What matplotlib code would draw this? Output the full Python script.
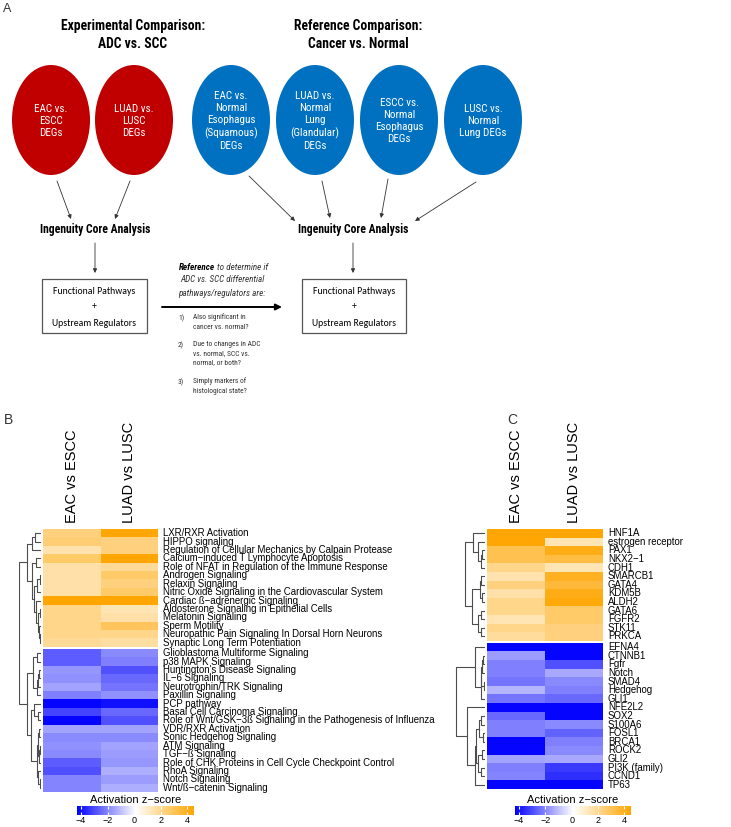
import numpy as np
import matplotlib
matplotlib.use("Agg")
import matplotlib.pyplot as plt
from matplotlib.patches import Ellipse, Rectangle
from matplotlib.colors import LinearSegmentedColormap, Normalize
from matplotlib.colorbar import ColorbarBase
from matplotlib.transforms import offset_copy

W, H = 731, 827
NARROW = ['Roboto Condensed', 'Arial Narrow', 'Liberation Sans Narrow', 'Liberation Sans']
ARIAL = ['Liberation Sans', 'DejaVu Sans']
CALIBRI = ['Carlito', 'Lato', 'DejaVu Sans']

# ---------------- data: panel B (pathways) ----------------
heat_cols = ["EAC vs ESCC", "LUAD vs LUSC"]

b_up_names = ["LXR/RXR Activation", "HIPPO signaling",
              "Regulation of Cellular Mechanics by Calpain Protease",
              "Calcium\u2212induced T Lymphocyte Apoptosis",
              "Role of NFAT in Regulation of the Immune Response",
              "Androgen Signaling", "Relaxin Signaling",
              "Nitric Oxide Signaling in the Cardiovascular System",
              "Cardiac \u00df\u2212adrenergic Signaling",
              "Aldosterone Signaling in Epithelial Cells", "Melatonin Signaling",
              "Sperm Motility", "Neuropathic Pain Signaling In Dorsal Horn Neurons",
              "Synaptic Long Term Potentiation"]
b_up_eac = [2.2, 2.4, 1.4, 2.6, 1.5, 1.5, 1.5, 1.5, 4.3, 2.0, 2.0, 2.0, 2.0, 1.8]
b_up_luad = [4.3, 2.2, 2.2, 4.3, 1.8, 2.6, 2.2, 2.6, 4.3, 1.3, 1.5, 2.8, 2.0, 1.6]

b_down_names = ["Glioblastoma Multiforme Signaling", "p38 MAPK Signaling",
                "Huntington's Disease Signaling", "IL\u22126 Signaling",
                "Neurotrophin/TRK Signaling", "Paxillin Signaling", "PCP pathway",
                "Basal Cell Carcinoma Signaling",
                "Role of Wnt/GSK\u22123\u00df Signaling in the Pathogenesis of Influenza",
                "VDR/RXR Activation", "Sonic Hedgehog Signaling", "ATM Signaling",
                "TGF\u2212\u00df Signaling",
                "Role of CHK Proteins in Cell Cycle Checkpoint Control",
                "RhoA Signaling", "Notch Signaling", "Wnt/\u00df\u2212catenin Signaling"]
b_down_eac = [-2.8, -2.8, -1.8, -1.9, -1.6, -2.2, -4.3, -3.2, -4.3, -1.6, -2.0,
              -1.9, -2.0, -2.8, -3.0, -2.1, -2.1]
b_down_luad = [-2.0, -2.2, -3.0, -2.6, -2.4, -1.9, -4.1, -2.6, -3.0, -1.6, -2.0,
               -1.6, -1.7, -1.8, -1.4, -1.7, -1.4]

# merges (left, right, height), leaves 0..30, new clusters numbered from 31
b_tree = [(0, 1, 0.27), (31, 2, 0.42), (3, 4, 0.23), (5, 6, 0.03), (34, 7, 0.18),
          (9, 10, 0.05), (12, 13, 0.05), (11, 37, 0.10), (36, 38, 0.15),
          (8, 39, 0.25), (35, 40, 0.32), (33, 41, 0.40), (32, 42, 0.64),
          (14, 15, 0.18), (16, 17, 0.08), (45, 18, 0.12), (46, 19, 0.20),
          (44, 47, 0.36), (21, 22, 0.12), (20, 49, 0.30), (23, 24, 0.10),
          (25, 26, 0.04), (52, 27, 0.08), (51, 53, 0.14), (29, 30, 0.06),
          (28, 55, 0.12), (54, 56, 0.20), (50, 57, 0.45), (48, 58, 0.62),
          (43, 59, 1.0)]

# ---------------- data: panel C (upstream regulators) ----------------
c_up_names = ["HNF1A", "estrogen receptor", "PAX1", "NKX2\u22121", "CDH1", "SMARCB1",
              "GATA4", "KDM5B", "ALDH2", "GATA6", "FGFR2", "STK11", "PRKCA"]
c_up_eac = [4.3, 4.3, 3.0, 3.0, 2.0, 1.4, 2.2, 1.5, 2.0, 2.0, 1.3, 2.0, 1.7]
c_up_luad = [4.3, 1.3, 4.0, 3.2, 1.3, 3.8, 3.4, 4.0, 4.2, 2.6, 2.6, 2.2, 2.2]

c_down_names = ["EFNA4", "CTNNB1", "Fgfr", "Notch", "SMAD4", "Hedgehog", "GLI1",
                "NFE2L2", "SOX2", "S100A6", "FOSL1", "BRCA1", "ROCK2", "GLI2",
                "PI3K (family)", "CCND1", "TP63"]
c_down_eac = [-4.3, -1.7, -2.2, -2.2, -2.4, -1.3, -2.4, -4.3, -2.6, -2.2, -2.2,
              -4.3, -4.3, -1.6, -2.2, -2.1, -4.3]
c_down_luad = [-4.3, -4.3, -3.0, -1.5, -2.0, -2.2, -2.6, -4.3, -4.3, -2.0, -2.7,
               -2.2, -2.0, -1.5, -3.4, -3.6, -4.3]

# leaves 0..29, new clusters numbered from 30
c_tree = [(2, 3, 0.10), (30, 4, 0.14), (1, 31, 0.22), (0, 32, 0.39),
          (5, 6, 0.14), (7, 8, 0.11), (34, 35, 0.17), (9, 10, 0.14),
          (11, 12, 0.14), (37, 38, 0.22), (36, 39, 0.44), (33, 40, 0.67),
          (14, 15, 0.06), (42, 16, 0.10), (17, 18, 0.05), (43, 44, 0.12),
          (45, 19, 0.15), (13, 46, 0.33), (21, 22, 0.15), (23, 24, 0.08),
          (48, 49, 0.20), (25, 26, 0.10), (27, 28, 0.15), (51, 52, 0.25),
          (50, 53, 0.30), (54, 29, 0.35), (20, 55, 0.60), (47, 56, 0.97)]

zlim = (-4.3, 4.5)
cmap = LinearSegmentedColormap.from_list("bwo", ["#0000FF", "#FFFFFF", "#FFA500"])
norm = Normalize(-4.4, 4.4)

fig = plt.figure(figsize=(W / 100, H / 100), dpi=100)


def px_axes(x0, y0, x1, y1):
    return fig.add_axes([x0 / W, 1 - y1 / H, (x1 - x0) / W, (y1 - y0) / H])


# ---------------- panel A: workflow diagram ----------------
ax = px_axes(0, 0, W, H)
ax.set_xlim(0, W)
ax.set_ylim(H, 0)
ax.axis("off")

ax.text(3, 3, "A", fontsize=9, va="top", family=ARIAL, color="#333333")
ax.text(4, 420, "B", fontsize=10, va="center", family=ARIAL, color="#333333")
ax.text(507, 420, "C", fontsize=10, va="center", family=ARIAL, color="#333333")

ax.text(133, 35, "Experimental Comparison:\nADC vs. SCC", ha="center", va="center",
        fontsize=9.8, fontweight="bold", family=NARROW, linespacing=1.45)
ax.text(358, 35, "Reference Comparison:\nCancer vs. Normal", ha="center", va="center",
        fontsize=9.8, fontweight="bold", family=NARROW, linespacing=1.45)

circles = [(51, "#C00000", "EAC vs.\nESCC\nDEGs"),
           (134, "#C00000", "LUAD vs.\nLUSC\nDEGs"),
           (231, "#0070C0", "EAC vs.\nNormal\nEsophagus\n(Squamous)\nDEGs"),
           (315, "#0070C0", "LUAD vs.\nNormal\nLung\n(Glandular)\nDEGs"),
           (399, "#0070C0", "ESCC vs.\nNormal\nEsophagus\nDEGs"),
           (483, "#0070C0", "LUSC vs.\nNormal\nLung DEGs")]
for cx, col, lab in circles:
    ax.add_patch(Ellipse((cx, 120), 78, 110, facecolor=col, edgecolor="none"))
    ax.text(cx, 121, lab, ha="center", va="center", color="white", fontsize=8,
            family=NARROW, linespacing=1.27)

thin = dict(arrowstyle="-|>", color="#333333", lw=0.6, mutation_scale=6,
            shrinkA=0, shrinkB=0)
for s, e in [((57, 181), (71, 219)), ((130, 181), (115, 219)),
             ((249, 176), (295, 221)), ((322, 181), (330, 218)),
             ((388, 179), (381, 218)), ((476, 182), (415, 221)),
             ((95, 243), (95, 273)), ((353, 243), (353, 273))]:
    ax.annotate("", xy=e, xytext=s, arrowprops=thin)

for cx in (95, 353):
    ax.text(cx, 230, "Ingenuity Core Analysis", ha="center", va="center",
            fontsize=8.4, fontweight="bold", family=NARROW)

for x0, x1 in ((42, 147), (302, 406)):
    ax.add_patch(Rectangle((x0, 279), x1 - x0, 54, facecolor="white",
                           edgecolor="#555555", lw=0.9))
    cx = (x0 + x1) / 2
    ax.text(cx, 291, "Functional Pathways", ha="center", va="center", fontsize=7,
            family=CALIBRI)
    ax.text(cx, 307, "+", ha="center", va="center", fontsize=7, family=CALIBRI)
    ax.text(cx, 323, "Upstream Regulators", ha="center", va="center", fontsize=7,
            family=CALIBRI)

ax.annotate("", xy=(282, 307), xytext=(162, 307),
            arrowprops=dict(arrowstyle="-|>", color="black", lw=1.4,
                            mutation_scale=9, shrinkA=0, shrinkB=0))
ax.text(215, 267, "Reference", ha="right", va="center", fontsize=6.6, style="italic",
        fontweight="bold", family=NARROW)
ax.text(217, 267, "to determine if", ha="left", va="center", fontsize=6.6,
        style="italic", family=NARROW, color="#333333")
ax.text(222, 280, "ADC vs. SCC differential", ha="center", va="center", fontsize=6.6,
        style="italic", family=NARROW, color="#333333")
ax.text(222, 293, "pathways/regulators are:", ha="center", va="center", fontsize=6.6,
        style="italic", family=NARROW, color="#333333")

steps = [(318, "1)", "Also significant in\ncancer vs. normal?"),
         (345, "2)", "Due to changes in ADC\nvs. normal, SCC vs.\nnormal, or both?"),
         (382, "3)", "Simply markers of\nhistological state?")]
for y, num, txt in steps:
    ax.text(178, y, num, ha="left", va="center", fontsize=5.4, family=NARROW,
            color="#333333")
    ax.text(193, y - 4.5, txt, ha="left", va="top", fontsize=5.4, family=NARROW,
            color="#333333", linespacing=1.45)


# ---------------- heatmaps ----------------
def heatmap(box, up_names, up_a, up_b, down_names, down_a, down_b, gap):
    x0, y0, x1, y1 = box
    hax = px_axes(x0, y0, x1, y1)
    n_up, n_dn = len(up_names), len(down_names)
    top = np.column_stack([up_a, up_b])
    bot = np.column_stack([down_a, down_b])
    hax.pcolormesh(np.arange(3), np.arange(n_up + 1), top, cmap=cmap, norm=norm)
    hax.pcolormesh(np.arange(3), np.arange(n_dn + 1) + n_up + gap, bot,
                   cmap=cmap, norm=norm)
    hax.set_xlim(0, 2)
    hax.set_ylim(n_up + n_dn + gap, 0)
    hax.axis("off")
    lab_tr = offset_copy(hax.transData, fig=fig, x=5, y=0, units="dots")
    ys = list(np.arange(n_up) + 0.5) + list(np.arange(n_dn) + n_up + gap + 0.5)
    for y, name in zip(ys, up_names + down_names):
        hax.text(2, y, name, transform=lab_tr, ha="left", va="center",
                 fontsize=6.9, family=ARIAL)
    col_tr = offset_copy(hax.transData, fig=fig, x=0, y=6, units="dots")
    for i, c in enumerate(heat_cols):
        hax.text(i + 0.5, 0, c, transform=col_tr, rotation=90, ha="center",
                 va="bottom", fontsize=10.5, family=ARIAL)
    return hax, ys


def dendrogram(box, tree, ys, ylim):
    x0, y0, x1, y1 = box
    dax = px_axes(x0, y0, x1, y1)
    pos = {i: (y, 0.0) for i, y in enumerate(ys)}
    n = len(ys)
    for k, (a, b, h) in enumerate(tree):
        ya, ha = pos[a]
        yb, hb = pos[b]
        dax.plot([ha, h, h, hb], [ya, ya, yb, yb], color="#4d4d4d", lw=0.8)
        pos[n + k] = ((ya + yb) / 2, h)
    dax.set_xlim(1.0, 0.0)
    dax.set_ylim(*ylim)
    dax.axis("off")


def legend(box, title_y):
    x0, y0, x1, y1 = box
    cax = px_axes(x0, y0, x1, y1)
    cb = ColorbarBase(cax, cmap=cmap, norm=Normalize(*zlim), orientation="horizontal",
                      ticks=[-4, -2, 0, 2, 4])
    cb.outline.set_visible(False)
    cax.tick_params(axis="x", direction="in", color="white", length=2.5, width=0.8,
                    labelsize=6.5, pad=0.5, top=True)
    cax.set_xticklabels(["\u22124", "\u22122", "0", "2", "4"], family=ARIAL)
    ax.text((x0 + x1) / 2, title_y, "Activation z\u2212score", ha="center",
            va="center", fontsize=8, family=ARIAL)


gap_b = 0.25
hb, ys_b = heatmap((43, 529, 158, 792), b_up_names, b_up_eac, b_up_luad,
                   b_down_names, b_down_eac, b_down_luad, gap_b)
dendrogram((19, 529, 41, 792), b_tree, ys_b, hb.get_ylim())
legend((77, 806, 194, 815), 800)

gap_c = 0.25
hc, ys_c = heatmap((487, 529, 603, 789), c_up_names, c_up_eac, c_up_luad,
                   c_down_names, c_down_eac, c_down_luad, gap_c)
dendrogram((455, 529, 485, 789), c_tree, ys_c, hc.get_ylim())
legend((515, 806, 631, 815), 800)

fig.savefig("out.png", dpi=100)
